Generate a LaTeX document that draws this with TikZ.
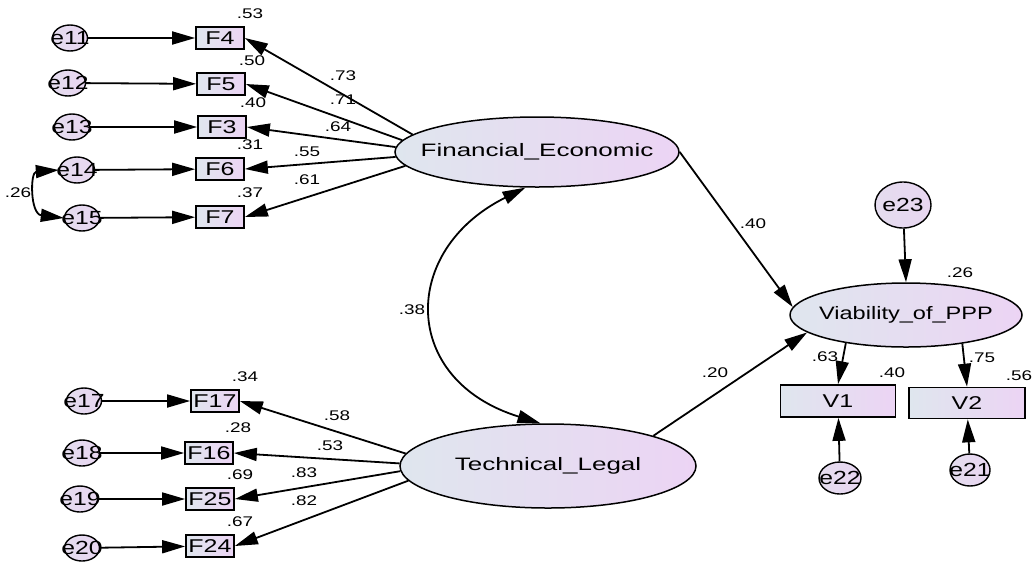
\documentclass[tikz,border=0pt]{standalone}
\usepackage{fontspec}
\usepackage{graphicx}
\newfontfamily\lblfont{Liberation Sans}[FakeStretch=1.35]
\newfontfamily\efont{Liberation Sans}[FakeStretch=1.3]
\usetikzlibrary{arrows.meta,shapes.geometric}
\definecolor{gl}{HTML}{DFE6EE}
\definecolor{gr}{HTML}{ECD4F4}
\definecolor{ef}{HTML}{E8D6F0}
\tikzset{
  big/.style={ellipse,draw,line width=1.5pt,left color=gl,right color=gr,inner sep=0pt,
    font=\lblfont\fontsize{18}{20}\selectfont},
  errc/.style={ellipse,draw,line width=1.4pt,left color=gl!40!ef,right color=ef,inner sep=0pt,
    minimum width=35pt,minimum height=26pt,font=\efont\fontsize{19}{20}\selectfont},
  obs/.style={rectangle,draw,line width=1.7pt,left color=gl,right color=gr,inner sep=0pt,
    minimum width=48pt,minimum height=22pt,font=\lblfont\fontsize{18.5}{20}\selectfont},
  num/.style={font=\lblfont\fontsize{14}{15}\selectfont,inner sep=0pt},
  arr/.style={line width=1.8pt,-{Triangle[length=23pt,width=13pt]}},
  corr/.style={line width=1.8pt,{Triangle[length=23pt,width=13pt]}-{Triangle[length=23pt,width=13pt]}},
}
\newcommand{\tx}[1]{\makebox[0pt]{#1}}
\newcommand{\txs}[2]{\makebox[0pt]{\scalebox{#1}[1]{#2}}}
\begin{document}
\begin{tikzpicture}[x=1pt,y=-1pt]
\useasboundingbox (0,0) rectangle (1032,563);
% latent variables
\node[big,minimum width=284pt,minimum height=70pt] (FE) at (537,152) {\txs{1.07}{Financial\_Economic}};
\node[big,minimum width=296pt,minimum height=84pt] (TL) at (548,466) {\txs{1.07}{Technical\_Legal}};
\node[big,minimum width=232pt,minimum height=64pt] (VP) at (906,315) {\txs{0.97}{Viability\_of\_PPP}};
% observed
\node[obs] (F4) at (220,38) {\tx{F4}};
\node[obs] (F5) at (221,84) {\tx{F5}};
\node[obs] (F3) at (222,127) {\tx{F3}};
\node[obs] (F6) at (220,169) {\tx{F6}};
\node[obs] (F7) at (220,217) {\tx{F7}};
\node[obs] (F17) at (215,401) {\tx{F17}};
\node[obs] (F16) at (209,453) {\tx{F16}};
\node[obs] (F25) at (210,499) {\tx{F25}};
\node[obs] (F24) at (210,546) {\tx{F24}};
\node[obs,minimum width=115pt,minimum height=32pt] (V1) at (838,401) {\tx{V1}};
\node[obs,minimum width=116pt,minimum height=31pt] (V2) at (967,403) {\tx{V2}};
% errors
\node[errc] (e11) at (70,38) {\tx{e11}};
\node[errc] (e12) at (68,83) {\tx{e12}};
\node[errc] (e13) at (72,127) {\tx{e13}};
\node[errc] (e14) at (77,170) {\tx{e14}};
\node[errc] (e15) at (82,218) {\tx{e15}};
\node[errc] (e17) at (84,401) {\tx{e17}};
\node[errc] (e18) at (82,453) {\tx{e18}};
\node[errc] (e19) at (80,499) {\tx{e19}};
\node[errc] (e20) at (82,548) {\tx{e20}};
\node[errc,minimum width=56pt,minimum height=46pt] (e23) at (903,205) {\tx{e23}};
\node[errc,minimum width=42pt,minimum height=32pt] (e22) at (840,478) {\tx{e22}};
\node[errc,minimum width=40pt,minimum height=32pt] (e21) at (970,470) {\tx{e21}};
% error arrows
\foreach \e/\f in {e11/F4,e12/F5,e13/F3,e14/F6,e15/F7,e17/F17,e18/F16,e19/F25,e20/F24}
  \draw[arr] (\e) -- (\f);
% loadings
\draw[arr] (FE.172.5) -- (F4.east);
\draw[arr] (FE.175.5) -- (F5.east);
\draw[arr] (FE.178.5) -- (F3.east);
\draw[arr] (FE.182) -- (F6.east);
\draw[arr] (FE.186) -- (F7.east);
\draw[arr] (TL.175) -- (F17.east);
\draw[arr] (TL.179) -- (F16.east);
\draw[arr] (TL.182) -- (F25.east);
\draw[arr] (TL.186) -- (F24.east);
\draw[arr] (FE.east) -- (VP.176);
\draw[arr] (TL.16) -- (VP.190);
\draw[arr] (e23) -- (VP.north);
\draw[arr] (VP.205.5) -- (V1.north);
\draw[arr] (VP.333.4) -- (V2.north);
\draw[arr] (e22) -- (V1);
\draw[arr] (e21) -- (V2);
% correlations
\draw[corr] (FE.252) .. controls (400,250) and (400,380) .. (TL.100);
\draw[corr] (e14.west) .. controls (30,172) and (30,214) .. (e15.west);
% numbers
\node[num] (n1) at (250,14) {.53};
\node[num] (n2) at (252,61) {.50};
\node[num] (n3) at (253,103) {.40};
\node[num] (n4) at (250,145) {.31};
\node[num] (n5) at (250,193) {.37};
\node[num] (n6) at (343,76) {.73};
\node[num] (n7) at (343,100) {.71};
\node[num] (n8) at (338,127) {.64};
\node[num] (n9) at (307,152) {.55};
\node[num] (n10) at (307,180) {.61};
\node[num] (n11) at (18,193) {.26};
\node[num] (n12) at (245,377) {.34};
\node[num] (n13) at (238,428) {.28};
\node[num] (n14) at (240,475) {.69};
\node[num] (n15) at (240,522) {.67};
\node[num] (n16) at (337,416) {.58};
\node[num] (n17) at (330,446) {.53};
\node[num] (n18) at (304,473) {.83};
\node[num] (n19) at (304,501) {.82};
\node[num] (n20) at (412,310) {.38};
\node[num] (n21) at (753,224) {.40};
\node[num] (n22) at (715,373) {.20};
\node[num] (n23) at (960,273) {.26};
\node[num] (n24) at (825,357) {.63};
\node[num] (n25) at (892,373) {.40};
\node[num] (n26) at (982,358) {.75};
\node[num] (n27) at (1019,376) {.56};
\end{tikzpicture}
\end{document}
